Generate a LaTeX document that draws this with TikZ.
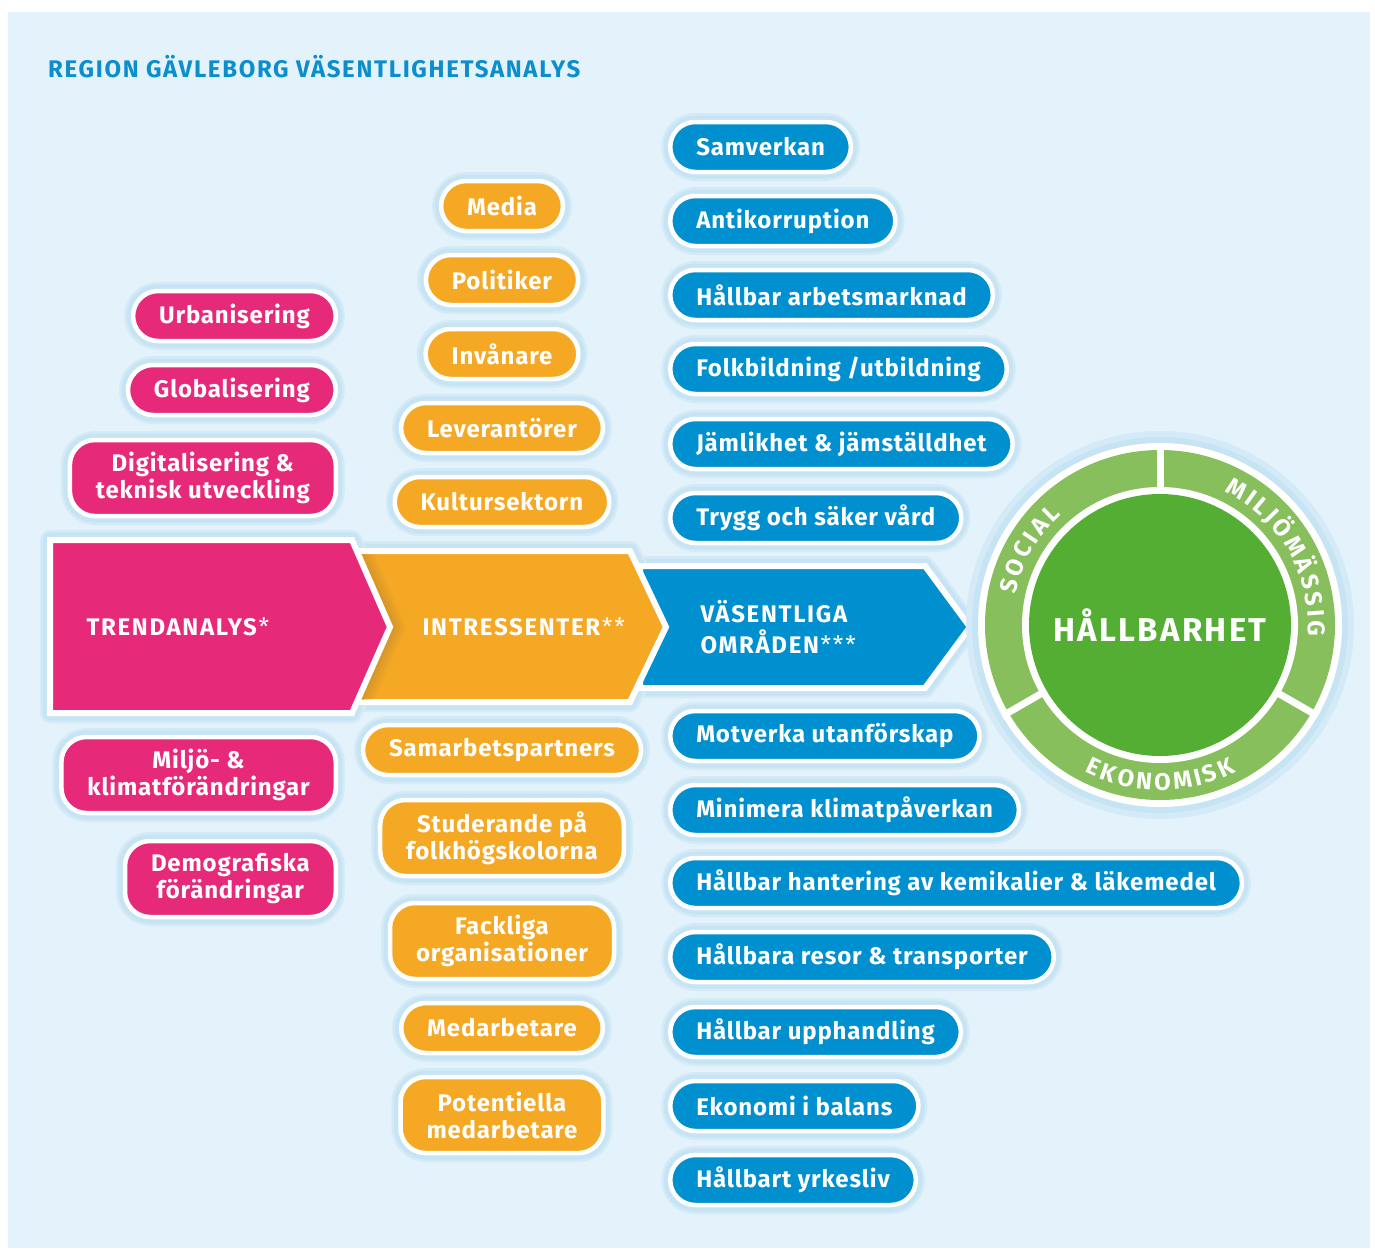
\documentclass[tikz,border=0pt]{standalone}
\usepackage{fontspec}
\setmainfont{Fira Sans}
\newfontfamily\spaced{Fira Sans}[LetterSpace=3.5]
\newfontfamily\widespaced{Fira Sans}[LetterSpace=7]
\usetikzlibrary{decorations.text}

\definecolor{bakgrund}{HTML}{E4F2FB}
\definecolor{glowbla}{HTML}{C6E4F4}
\definecolor{glowljus}{HTML}{D4EBF7}
\definecolor{rosa}{HTML}{E62A79}
\definecolor{gul}{HTML}{F5A823}
\definecolor{skugga}{HTML}{B98A2E}
\definecolor{bla}{HTML}{0090CF}
\definecolor{rubrik}{HTML}{0A8ECD}
\definecolor{ljusgron}{HTML}{86BF5B}
\definecolor{morkgron}{HTML}{53AE33}

\newcommand\boxfont{\spaced\bfseries\fontsize{24}{27}\selectfont}
\newcommand\ringfont{\bfseries\fontsize{24}{24}\selectfont}

\begin{document}
\begin{tikzpicture}[x=1pt, y=1pt,
  glow/.style = {preaction={draw=glowljus, line width=18pt}, preaction={draw=glowbla, line width=13pt}},
  box/.style = {glow, draw=white, line width=4.5pt, rounded corners=25pt,
    minimum height=50pt, inner xsep=26pt, inner ysep=4pt, align=center,
    text=white, font=\boxfont},
  two/.style = {minimum height=76pt},
  trend/.style = {box, fill=rosa},
  intr/.style = {box, fill=gul},
  omr/.style = {box, fill=bla},
  pil/.style = {draw=white, line width=6pt, miter limit=20},
  ring/.style = {decorate, decoration={text effects along path, text={#1}, text align=center,
    text effects/.cd, text along path, characters={text=white, font=\ringfont, inner xsep=1.6pt},
    character widths={font=\ringfont, inner xsep=1.6pt}}}]

\useasboundingbox (0,0) rectangle (1375,-1250);
\fill[white] (0,0) rectangle (1375,-1250);
\fill[bakgrund] (8,-12) rectangle (1370,-1248);

\node[anchor=base west, inner sep=0pt, text=rubrik, font=\widespaced\bfseries\fontsize{24}{24}\selectfont]
  (titel) at (48,-77) {REGION GÄVLEBORG VÄSENTLIGHETSANALYS};

% pilar
\foreach \p in {{(640,-566) -- (925,-566) -- (970,-627) -- (925,-688) -- (640,-688) -- cycle},
                {(350,-551) -- (630,-551) -- (666,-627) -- (630,-702) -- (350,-702) -- cycle},
                {(50,-540) -- (352,-540) -- (390,-627) -- (352,-713) -- (50,-713) -- cycle}}
  {\draw[glowljus, line width=20pt, line join=round] \p;
   \draw[glowbla, line width=15pt, line join=round] \p;}
\draw[pil, fill=bla] (640,-566) -- (925,-566) -- (970,-627) -- (925,-688) -- (640,-688) -- cycle;
\draw[pil, fill=gul] (350,-551) -- (630,-551) -- (666,-627) -- (630,-702) -- (350,-702) -- cycle;
% skugga under rosa pilen
\begin{scope}
  \clip (350,-554) -- (630,-554) -- (630,-699) -- (350,-699) -- cycle;
  \foreach \w/\o in {30/0.10, 24/0.12, 18/0.15, 12/0.2}
    \draw[skugga, opacity=\o, line width=\w pt] (352,-540) -- (390,-627) -- (352,-713);
\end{scope}
\draw[pil, fill=rosa] (50,-540) -- (352,-540) -- (390,-627) -- (352,-713) -- (50,-713) -- cycle;

\node[anchor=west, text=white, font=\widespaced\fontsize{24}{24}\selectfont] (trendtxt) at (83,-627) {\textbf{TRENDANALYS}*};
\node[anchor=west, text=white, font=\widespaced\fontsize{24}{24}\selectfont] (intrtxt) at (419,-627) {\textbf{INTRESSENTER}**};
\node[anchor=west, text=white, align=left, font=\widespaced\fontsize{24}{31}\selectfont] (omrtxt) at (697,-627)
  {\textbf{VÄSENTLIGA}\\\textbf{OMRÅDEN}***};

% trender
\node[trend, anchor=east] (urb) at (338,-316) {Urbanisering};
\node[trend, anchor=east] (glob) at (338,-390) {Globalisering};
\node[trend, two, anchor=east] (dig) at (338,-478) {Digitalisering \&\\teknisk utveckling};
\node[trend, two, anchor=east] (milj) at (338,-775) {Miljö- \&\\klimatförändringar};
\node[trend, two, anchor=east] (demo) at (338,-879) {Demografiska\\förändringar};

% intressenter
\node[intr] (media) at (502,-206) {Media};
\node[intr] (pol) at (502,-280) {Politiker};
\node[intr] (inv) at (502,-354) {Invånare};
\node[intr] (lev) at (502,-428) {Leverantörer};
\node[intr] (kult) at (502,-502) {Kultursektorn};
\node[intr] (samarb) at (502,-750) {Samarbetspartners};
\node[intr, two] (stud) at (502,-838) {Studerande på\\folkhögskolorna};
\node[intr, two] (fack) at (502,-941) {Fackliga\\organisationer};
\node[intr] (medarb) at (502,-1028) {Medarbetare};
\node[intr, two] (pot) at (502,-1115) {Potentiella\\medarbetare};

% omraden
\node[omr, anchor=west] (samv) at (668,-147) {Samverkan};
\node[omr, anchor=west] (anti) at (668,-221) {Antikorruption};
\node[omr, anchor=west] (arb) at (668,-295) {Hållbar arbetsmarknad};
\node[omr, anchor=west] (folk) at (668,-369) {Folkbildning /utbildning};
\node[omr, anchor=west] (jaml) at (668,-444) {Jämlikhet \& jämställdhet};
\node[omr, anchor=west] (trygg) at (668,-518) {Trygg och säker vård};
\node[omr, anchor=west] (motv) at (668,-736) {Motverka utanförskap};
\node[omr, anchor=west] (klim) at (668,-810) {Minimera klimatpåverkan};
\node[omr, anchor=west] (kemi) at (668,-883) {Hållbar hantering av kemikalier \& läkemedel};
\node[omr, anchor=west] (resor) at (668,-957) {Hållbara resor \& transporter};
\node[omr, anchor=west] (upph) at (668,-1032) {Hållbar upphandling};
\node[omr, anchor=west] (ekon) at (668,-1106) {Ekonomi i balans};
\node[omr, anchor=west] (yrk) at (668,-1180) {Hållbart yrkesliv};

% hallbarhet
\coordinate (c) at (1160,-625);
\fill[glowljus] (c) circle[radius=194];
\fill[glowbla] (c) circle[radius=188];
\fill[white] (c) circle[radius=182];
\fill[ljusgron] (c) circle[radius=175];
\fill[white] (c) circle[radius=138];
\foreach \v in {90,210,330}
  \draw[white, line width=7pt] (c) ++(\v:130) -- ++(\v:52);
\node[circle, fill=morkgron, minimum size=262pt, inner sep=0pt, text=white,
  font=\widespaced\bfseries\fontsize{33}{33}\selectfont] (hall) at (c) {HÅLLBARHET};

\path[ring=SOCIAL] (c) ++(190:148) arc[start angle=190, end angle=110, radius=148];
\path[ring=MILJÖMÄSSIG] (c) ++(78:148) arc[start angle=78, end angle=-18, radius=148];
\path[ring=EKONOMISK] (c) ++(222:165) arc[start angle=222, end angle=318, radius=165];
\end{tikzpicture}
\end{document}
